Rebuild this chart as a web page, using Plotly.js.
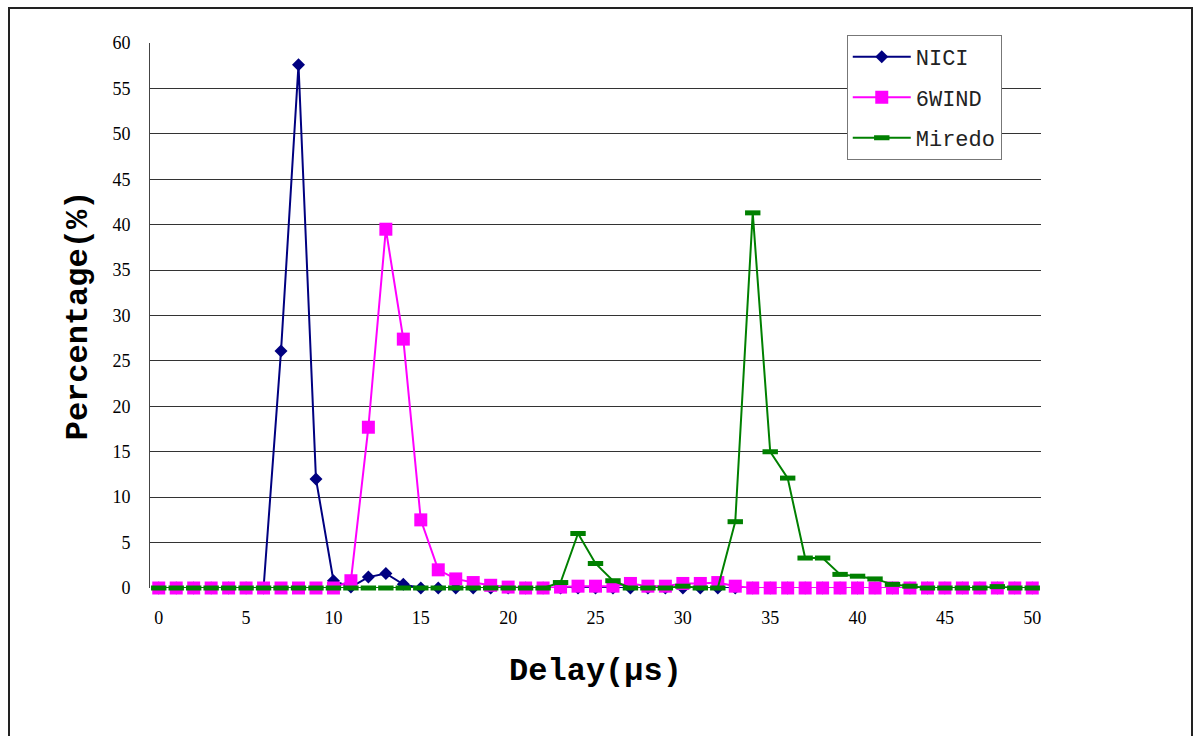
<!DOCTYPE html>
<html>
<head>
<meta charset="utf-8">
<script src="https://cdn.plot.ly/plotly-3.0.1.min.js"></script>
<style>
  html, body { margin: 0; padding: 0; background: #fff; }
  #frame { position: absolute; left: 8px; top: 7px; width: 1185px; height: 740px; border: 2px solid #222; box-sizing: border-box; }
  #chart { position: absolute; left: 0; top: 0; width: 1197px; height: 736px; }
</style>
</head>
<body>
<div id="frame"></div>
<div id="chart"></div>
<script>
// Delay categories 0..50 µs
const delays = [];
for (let i = 0; i <= 50; i++) delays.push(i);

const nici = [
  0, 0, 0, 0, 0, 0, 0, 26.1, 57.6, 12.0,
  0.8, 0.1, 1.2, 1.6, 0.4, 0, 0, 0, 0, 0,
  0, 0, 0, 0, 0, 0, 0, 0, 0, 0,
  0, 0, 0, 0, 0, 0, 0, 0, 0, 0,
  0, 0, 0, 0, 0, 0, 0, 0, 0, 0,
  0
];

const sixwind = [
  0, 0, 0, 0, 0, 0, 0, 0, 0, 0,
  0, 0.8, 17.7, 39.5, 27.4, 7.5, 2.0, 1.0, 0.6, 0.3,
  0.1, 0, 0, 0.1, 0.2, 0.2, 0.2, 0.5, 0.2, 0.2,
  0.5, 0.5, 0.6, 0.2, 0, 0, 0, 0, 0, 0,
  0, 0, 0, 0, 0, 0, 0, 0, 0, 0,
  0
];

const miredo = [
  0, 0, 0, 0, 0, 0, 0, 0, 0, 0,
  0, 0, 0, 0, 0, 0, 0, 0, 0, 0,
  0, 0, 0, 0.6, 6.0, 2.7, 0.8, 0, 0, 0,
  0.2, 0, 0, 7.3, 41.3, 15.0, 12.1, 3.3, 3.3, 1.5,
  1.3, 1.0, 0.4, 0.2, 0, 0, 0, 0, 0.15, 0,
  0
];

const xTicks = [0, 5, 10, 15, 20, 25, 30, 35, 40, 45, 50];
const yTicks = [0, 5, 10, 15, 20, 25, 30, 35, 40, 45, 50, 55, 60];

const traces = [
  {
    x: delays, y: nici, name: 'NICI', type: 'scatter', mode: 'lines+markers',
    legendgroup: 'a',
    line: { color: '#000080', width: 2 },
    marker: { symbol: 'diamond', size: 10, color: '#000080' },
    cliponaxis: false
  },
  {
    x: delays, y: sixwind, name: '6WIND', type: 'scatter', mode: 'lines+markers',
    legendgroup: 'b',
    line: { color: '#FF00FF', width: 2 },
    marker: { symbol: 'square', size: 13, color: '#FF00FF' },
    cliponaxis: false
  },
  {
    x: delays, y: miredo, name: 'Miredo', type: 'scatter', mode: 'lines+markers',
    legendgroup: 'c',
    line: { color: '#008000', width: 2 },
    marker: { symbol: 'line-ew', size: 11, color: '#008000', line: { color: '#008000', width: 5 } },
    cliponaxis: false
  }
];

const layout = {
  width: 1197, height: 736,
  margin: { l: 150, r: 156, t: 43, b: 148 },
  paper_bgcolor: 'rgba(0,0,0,0)',
  plot_bgcolor: 'rgba(0,0,0,0)',
  showlegend: true,
  xaxis: {
    range: [-0.5, 50.5],
    tickmode: 'array', tickvals: xTicks, ticktext: xTicks.map(String),
    showgrid: false, zeroline: false, showline: false,
    ticks: '', ticklabelstandoff: 17,
    tickfont: { family: 'Liberation Serif, Times New Roman, serif', size: 18, color: '#000' },
    title: { text: 'Delay(µs)', standoff: 30,
      font: { family: 'Liberation Mono, Courier New, monospace', size: 32, color: '#000', weight: 'bold' } }
  },
  yaxis: {
    range: [0, 60],
    tickmode: 'array', tickvals: yTicks, ticktext: yTicks.map(String),
    showgrid: true, gridcolor: '#333', gridwidth: 1,
    zeroline: false, showline: true, linecolor: '#444', linewidth: 1,
    ticks: '', ticklabelstandoff: 15,
    tickfont: { family: 'Liberation Serif, Times New Roman, serif', size: 18, color: '#000' },
    title: { text: 'Percentage(%)', standoff: 15,
      font: { family: 'Liberation Mono, Courier New, monospace', size: 32, color: '#000', weight: 'bold' } }
  },
  legend: {
    x: 0.782, y: 1.015, xanchor: 'left', yanchor: 'top',
    bgcolor: '#fff', bordercolor: '#777', borderwidth: 1,
    font: { family: 'Liberation Mono, Courier New, monospace', size: 22, color: '#222' },
    tracegroupgap: 9, itemwidth: 58, traceorder: 'grouped'
  }
};

Plotly.newPlot('chart', traces, layout, { displayModeBar: false, staticPlot: true });
</script>
</body>
</html>
